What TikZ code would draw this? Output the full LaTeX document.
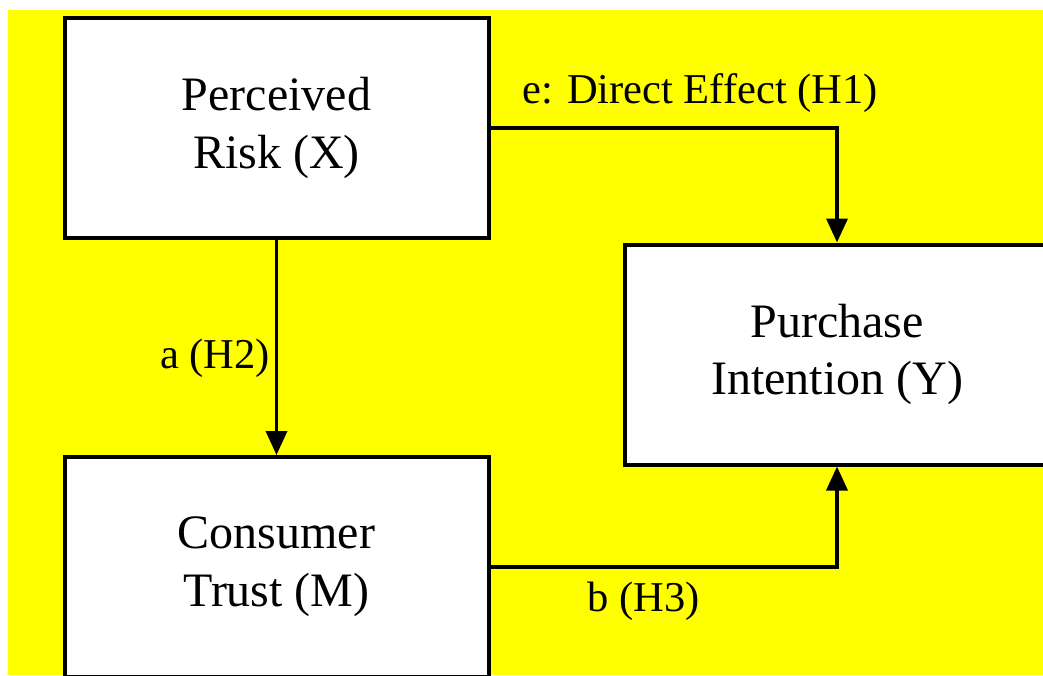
\documentclass[tikz,border=0pt]{standalone}
\usepackage{fontspec}
\setmainfont{Liberation Serif}
\usetikzlibrary{arrows.meta}
\definecolor{bgyellow}{RGB}{255,255,0}
\begin{document}
\begin{tikzpicture}[x=1pt,y=-1pt,
  box/.style={draw=black,fill=white,line width=4pt,minimum width=424pt,minimum height=220pt,inner sep=0pt,align=center,font=\fontsize{48}{57.6}\selectfont},
  conn/.style={line width=3.6pt,-{Triangle[length=24pt,width=21pt]}},
  lbl/.style={font=\fontsize{42.5}{51}\selectfont,inner sep=0pt}]
\useasboundingbox (0,0) rectangle (1043,675);
\clip (0,0) rectangle (1043,675);
\fill[white] (0,0) rectangle (1043,675);
\fill[bgyellow] (8,10) rectangle (1043,675);
\node[box] (x) at (276.5,128) {Perceived\\Risk (X)};
\node[box] (y) at (837,354.5) {Purchase\\Intention (Y)};
\node[box] (m) at (276.5,567) {Consumer\\Trust (M)};
\draw[conn] (x.east) -| (y.north);
\draw[conn] (x) -- (m);
\draw[conn] (m.east) -| (y.south);
\node[lbl] (le) at (700,93) {e: Direct Effect (H1)};
\node[lbl] (la) at (215,358) {a (H2)};
\node[lbl] (lb) at (644,601) {b (H3)};
\end{tikzpicture}
\end{document}
